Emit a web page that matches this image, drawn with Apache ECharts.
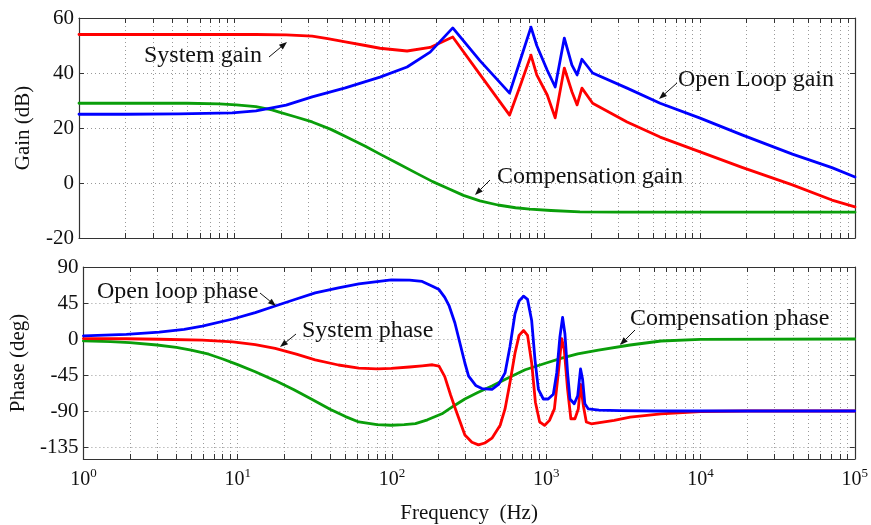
<!DOCTYPE html>
<html>
<head>
<meta charset="utf-8">
<script src="https://cdn.jsdelivr.net/npm/echarts@6/dist/echarts.min.js"></script>
<style>
html,body{margin:0;padding:0;background:#fff;}
#chart{width:871px;height:525px;}
</style>
</head>
<body>
<div id="chart"></div>
<script>
// ---- Data ----
// Gain plot (dB)
var openLoopGainFreq = [1, 2, 4.4, 9.7, 13.8, 17.5, 21.6, 31.8, 52, 87, 130, 183, 256, 383, 595, 700, 817, 890, 1040, 1170, 1340, 1500, 1620, 1740, 2040, 3400, 5550, 10050, 18700, 39500, 71000, 100000];
var openLoopGain = [25, 25, 25.1, 25.5, 26.2, 27.3, 28.3, 31.3, 34.6, 38.5, 42.2, 47.6, 56.4, 44.5, 32.7, 45, 56.7, 50, 41, 34.9, 52.7, 42.9, 39.3, 45, 40, 34.5, 29, 23.6, 17.5, 10.5, 5.6, 2.2];
var systemGainFreq = [1, 5, 13.8, 21.6, 31.8, 40, 52, 70, 87, 130, 183, 256, 383, 595, 700, 817, 890, 1040, 1170, 1340, 1500, 1620, 1740, 2040, 3400, 5550, 10050, 18700, 39500, 71000, 100000];
var systemGain = [54, 54, 54, 53.9, 53.4, 52.5, 51.3, 50, 49, 48, 49.3, 53.1, 39.5, 24.7, 35.7, 46.5, 39.3, 32, 23.7, 41.8, 33.2, 28.4, 34.5, 29, 22.2, 16.7, 11.3, 5.7, -0.7, -6.2, -8.7];
var compGainFreq = [1, 5, 8, 10.3, 13.8, 17.5, 19.5, 25, 31.8, 42, 53, 70, 87, 112, 150, 190, 235, 300, 383, 500, 650, 805, 1100, 1690, 3000, 100000];
var compGain = [29, 29, 28.8, 28.4, 27.8, 26.6, 25.8, 24, 22.2, 19.5, 16.7, 13.4, 10.5, 7.3, 3.5, 0.5, -1.8, -4.5, -6.5, -8, -9, -9.5, -10, -10.5, -10.6, -10.6];

// Phase plot (deg)
var openLoopPhaseFreq = [1, 1.9, 3.1, 4.5, 5.9, 9.3, 13, 17.5, 24, 31.8, 45, 61, 99, 130, 157, 183, 202, 220, 235, 256, 273, 297, 314, 349, 383, 445, 491, 541, 582, 627, 667, 713, 757, 805, 846, 890, 958, 1030, 1112, 1170, 1227, 1277, 1322, 1376, 1425, 1520, 1600, 1670, 1720, 1780, 1875, 2200, 3000, 5000, 100000];
var openLoopPhase = [4, 5.8, 8.7, 12, 16, 25, 33, 41.3, 50, 57.7, 64, 69, 74, 73.5, 72, 66, 61.8, 52, 41.3, 20, -1.6, -30, -46.5, -58, -62, -63, -56.8, -42.4, -9.7, 31, 47.5, 53.6, 49.5, 23, -26, -63, -75, -75, -69, -42.4, 2.6, 27, 6.6, -42.4, -75, -81, -71, -37.5, -50, -81, -87.4, -89, -89.5, -90, -90];
var systemPhaseFreq = [1, 1.9, 3.1, 5.9, 9.3, 13, 17.5, 24, 31.8, 45, 61, 80, 99, 130, 157, 183, 202, 220, 240, 258, 297, 330, 364, 400, 445, 503, 541, 582, 627, 667, 713, 757, 805, 851, 907, 975, 1050, 1130, 1198, 1260, 1310, 1376, 1445, 1535, 1615, 1670, 1740, 1820, 1960, 2760, 3500, 5550, 10000, 20000, 100000];
var systemPhase = [0.5, 0.3, -0.3, -1.5, -3.6, -7, -11.8, -19, -26, -32.5, -36.3, -37.3, -36.8, -35, -33.5, -32.2, -34, -47, -70, -87.4, -120, -129, -132.3, -130, -124, -107.8, -87.4, -54.7, -18, 4.5, 10.7, 4.5, -30, -79, -103.7, -108, -101.7, -87.4, -42.4, 0.5, -13.8, -63, -99.7, -99.7, -87.4, -56.8, -83, -103.7, -106, -101.7, -97.6, -93.5, -90.6, -90, -90];
var compPhaseFreq = [1, 1.5, 2, 3, 4, 5, 6.5, 8, 10, 13, 17.5, 23, 30, 40, 50, 61, 80, 99, 120, 142, 170, 211, 250, 297, 360, 445, 540, 730, 1000, 1260, 1600, 2180, 3500, 5550, 10000, 100000];
var compPhase = [-2.4, -3.3, -4.5, -7.5, -10.5, -14, -19, -25, -32, -41, -52, -63, -75, -88, -97, -103.7, -107, -107.8, -107, -105.8, -101, -93.5, -84, -75, -67, -58.8, -50.5, -38.4, -30, -24, -18.5, -13.8, -7.5, -2.5, -0.5, 0];

// Axis ticks
var freqMajorTicks = [1, 10, 100, 1000, 10000, 100000];
var freqMinorTicks = [1,2,3,4,5,6,7,8,9,10,20,30,40,50,60,70,80,90,100,200,300,400,500,600,700,800,900,1000,2000,3000,4000,5000,6000,7000,8000,9000,10000,20000,30000,40000,50000,60000,70000,80000,90000,100000];
var phaseTicks = [-135, -90, -45, 0, 45, 90];

// Annotation texts with arrows (pixel positions)
var annotations = [
  {text: 'System gain', x: 144, y: 56, from: [269, 57], to: [287, 42]},
  {text: 'Open Loop gain', x: 678, y: 80, from: [677, 83], to: [659, 99]},
  {text: 'Compensation gain', x: 497, y: 177, from: [490, 180], to: [475, 195]},
  {text: 'Open loop phase', x: 97, y: 292, from: [260, 293], to: [276, 306]},
  {text: 'System phase', x: 302, y: 331, from: [296, 334], to: [280, 347]},
  {text: 'Compensation phase', x: 630, y: 319, from: [635, 330], to: [620, 345]}
];

// ---- Styling ----
var FONT = 'Liberation Serif';
var BLUE = '#0000ff', RED = '#ff0000', GREEN = '#0a9e0a';
var gridLine = {show: true, lineStyle: {color: '#999', type: [1, 3], width: 1}};
var axisLine = {show: true, onZero: false, lineStyle: {color: '#333', width: 1.2}};

function pairs(xs, ys) { return xs.map(function (x, i) { return [x, ys[i]]; }); }

function xAxisDef(gridIndex, position, showLabels, showGrid, name) {
  return {
    type: 'log', logBase: 10, min: 1, max: 100000, gridIndex: gridIndex, position: position,
    axisLine: axisLine,
    axisTick: {show: true, inside: true, length: 5, customValues: freqMinorTicks, lineStyle: {color: '#333'}},
    splitLine: showGrid ? gridLine : {show: false},
    minorTick: {show: false}, minorSplitLine: {show: false},
    axisLabel: showLabels ? {
      show: true, margin: 8, customValues: freqMajorTicks,
      formatter: function (v) { return '{b|10}{e|' + Math.round(Math.log10(v)) + '}'; },
      rich: {
        b: {fontFamily: FONT, fontSize: 20, color: '#111', lineHeight: 26},
        e: {fontFamily: FONT, fontSize: 13, color: '#111', verticalAlign: 'top', lineHeight: 13}
      }
    } : {show: false},
    name: name || '', nameLocation: 'middle', nameGap: 44,
    nameTextStyle: {fontFamily: FONT, fontSize: 21, color: '#111'}
  };
}

function yGain(gridIndex, position, main) {
  return {
    type: 'value', min: -20, max: 60, interval: 20, gridIndex: gridIndex, position: position,
    axisLine: axisLine,
    axisTick: {show: true, inside: true, length: 5, lineStyle: {color: '#333'}},
    splitLine: main ? gridLine : {show: false},
    axisLabel: main ? {show: true, fontFamily: FONT, fontSize: 21, color: '#111', margin: 5} : {show: false},
    name: main ? 'Gain (dB)' : '', nameLocation: 'middle', nameGap: 45,
    nameTextStyle: {fontFamily: FONT, fontSize: 21, color: '#111'}
  };
}

function yPhase(gridIndex, position, main) {
  return {
    type: 'value', min: -150, max: 90, gridIndex: gridIndex, position: position,
    axisLine: axisLine,
    axisTick: {show: true, inside: true, length: 5, customValues: phaseTicks, lineStyle: {color: '#333'}},
    splitLine: main ? gridLine : {show: false},
    axisLabel: main ? {show: true, customValues: phaseTicks, fontFamily: FONT, fontSize: 21, color: '#111', margin: 5} : {show: false},
    name: main ? 'Phase (deg)' : '', nameLocation: 'middle', nameGap: 45,
    nameTextStyle: {fontFamily: FONT, fontSize: 21, color: '#111'}
  };
}

function lineSeries(xi, yi, data, color) {
  return {
    type: 'line', xAxisIndex: xi, yAxisIndex: yi, data: data, showSymbol: false, symbol: 'none',
    smooth: false,
    lineStyle: {color: color, width: 2.8, join: 'round', cap: 'round'}, z: 3, animation: false
  };
}

// annotations as graphic elements
var graphics = [];
annotations.forEach(function (a) {
  graphics.push({
    type: 'text', x: a.x, y: a.y, z: 10,
    style: {text: a.text, font: '24px "' + FONT + '"', fill: '#111', verticalAlign: 'middle', align: 'left'}
  });
  var dx = a.to[0] - a.from[0], dy = a.to[1] - a.from[1];
  var len = Math.sqrt(dx * dx + dy * dy), ux = dx / len, uy = dy / len;
  var hl = 8, hw = 3;
  var bx = a.to[0] - ux * hl, by = a.to[1] - uy * hl;
  graphics.push({
    type: 'line', z: 10,
    shape: {x1: a.from[0], y1: a.from[1], x2: bx, y2: by},
    style: {stroke: '#111', lineWidth: 1}
  });
  graphics.push({
    type: 'polygon', z: 10,
    shape: {points: [[a.to[0], a.to[1]], [bx - uy * hw, by + ux * hw], [bx + uy * hw, by - ux * hw]]},
    style: {fill: '#111'}
  });
});

var option = {
  backgroundColor: '#fff',
  animation: false,
  grid: [
    {left: 79, top: 18, width: 776, height: 220},
    {left: 79, top: 267, width: 776, height: 195}
  ],
  xAxis: [
    xAxisDef(0, 'bottom', false, true),
    xAxisDef(0, 'top', false, false),
    xAxisDef(1, 'bottom', true, true, 'Frequency  (Hz)'),
    xAxisDef(1, 'top', false, false)
  ],
  yAxis: [
    yGain(0, 'left', true),
    yGain(0, 'right', false),
    yPhase(1, 'left', true),
    yPhase(1, 'right', false)
  ],
  series: [
    lineSeries(0, 0, pairs(compGainFreq, compGain), GREEN),
    lineSeries(0, 0, pairs(systemGainFreq, systemGain), RED),
    lineSeries(0, 0, pairs(openLoopGainFreq, openLoopGain), BLUE),
    lineSeries(2, 2, pairs(compPhaseFreq, compPhase), GREEN),
    lineSeries(2, 2, pairs(systemPhaseFreq, systemPhase), RED),
    lineSeries(2, 2, pairs(openLoopPhaseFreq, openLoopPhase), BLUE)
  ],
  graphic: graphics
};

var chart = echarts.init(document.getElementById('chart'), null, {renderer: 'canvas'});
chart.setOption(option);
</script>
</body>
</html>
